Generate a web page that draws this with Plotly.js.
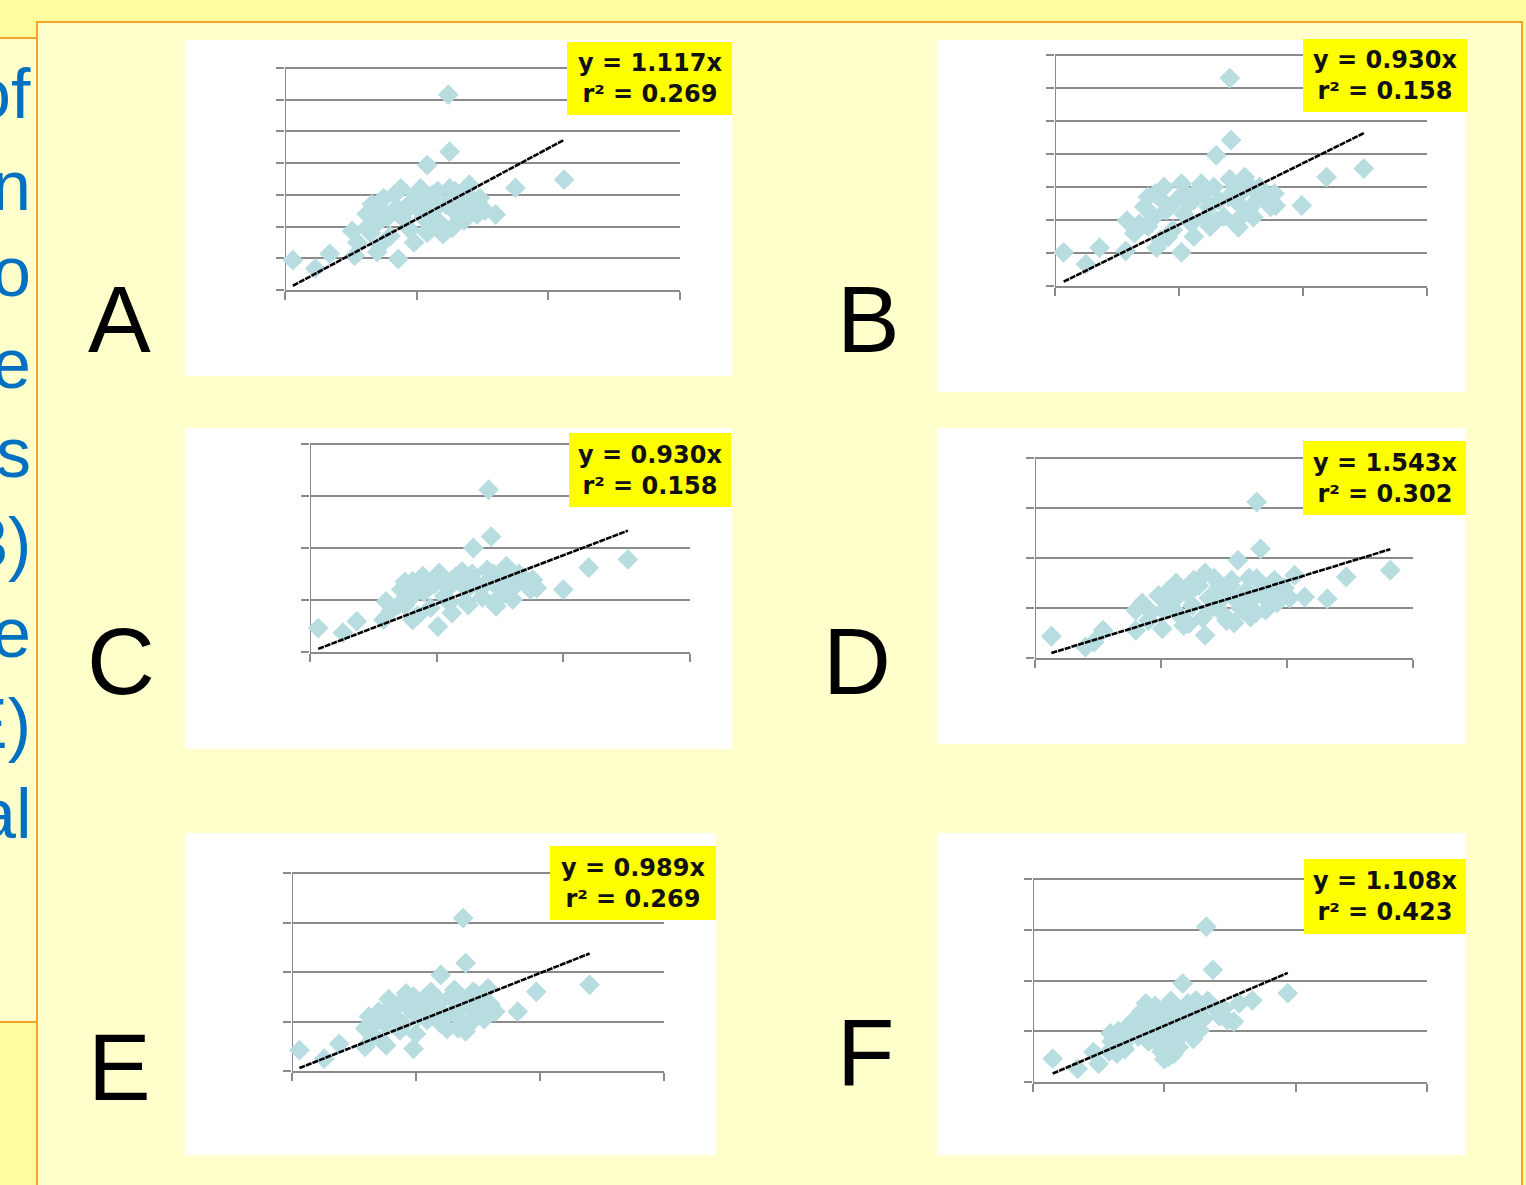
<!DOCTYPE html>
<html>
<head>
<meta charset="utf-8">
<script src="https://cdn.plot.ly/plotly-3.0.1.min.js"></script>
<style>
html,body{margin:0;padding:0;background:#fffb9f;}
#chart{width:1526px;height:1185px;}
</style>
</head>
<body>
<div id="chart"></div>
<script>
// ---------------- DATA ----------------
const panelLabels = ['A','B','C','D','E','F'];
const slopes = [1.117, 0.930, 0.930, 1.543, 0.989, 1.108];
const rSquared = [0.269, 0.158, 0.158, 0.302, 0.269, 0.423];
const sideWords = ['of','n','o','e','s','3)','e','E)','al'];

const ptsA = [[0.06,0.47],[0.23,0.34],[0.34,0.57],[0.51,0.93],[0.53,0.54],[0.62,0.98],[0.70,0.60],[0.72,1.30],[0.83,1.50],[0.86,0.49],[0.89,1.14],[0.94,1.35],[0.99,1.50],[1.05,1.14],[1.08,1.97],[1.10,0.98],[1.16,1.56],[1.20,0.88],[1.24,3.08],[1.25,2.18],[1.27,0.98],[1.29,1.56],[1.35,1.30],[1.40,1.66],[1.43,1.40],[1.46,1.19],[1.60,1.19],[1.75,1.61],[2.12,1.74],
 [0.62,1.2],[0.66,1.35],[0.70,1.05],[0.75,1.45],[0.78,1.15],[0.80,0.85],[0.85,1.3],[0.88,1.6],[0.92,1.25],[0.95,0.95],[1.0,1.3],[1.03,1.6],[1.06,1.4],[1.10,1.2],[1.12,1.5],[1.15,1.3],[1.18,1.05],[1.22,1.35],[1.25,1.6],[1.28,1.25],[1.32,1.5],[1.36,1.1],[1.38,1.6],[1.42,1.3],[1.48,1.45],[0.55,0.75],[0.65,0.9],[0.72,0.7],[0.98,0.75],[1.08,0.9],[1.3,1.05],[1.52,1.25]];

const ptsB = [[0.07,0.51],[0.25,0.33],[0.36,0.58],[0.57,0.53],[0.58,0.99],[0.68,0.94],[0.77,0.99],[0.81,1.40],[0.82,0.58],[0.88,1.50],[0.91,0.74],[1.02,0.51],[1.02,1.55],[1.04,1.09],[1.18,1.55],[1.21,1.01],[1.30,1.98],[1.30,0.99],[1.41,3.15],[1.42,2.21],[1.41,1.62],[1.48,0.89],[1.53,1.65],[1.60,1.04],[1.77,1.40],[1.78,1.22],[1.99,1.22],[2.19,1.65],[2.49,1.78],
 [0.72,1.2],[0.75,1.35],[0.80,1.05],[0.86,1.30],[0.90,1.15],[0.95,0.85],[0.98,1.3],[1.05,1.4],[1.08,1.25],[1.10,0.95],[1.12,1.3],[1.15,1.45],[1.2,1.4],[1.24,1.2],[1.28,1.5],[1.32,1.3],[1.36,1.05],[1.40,1.35],[1.45,1.5],[1.48,1.25],[1.52,1.45],[1.56,1.15],[1.58,1.5],[1.63,1.3],[1.70,1.4],[0.64,0.8],[0.75,0.9],[0.85,0.7],[1.12,0.75],[1.25,0.9],[1.5,1.05],[1.74,1.2],[1.45,0.95],[1.65,1.5]];

const ptsC = [[0.065,0.46],[0.26,0.37],[0.37,0.59],[0.58,0.62],[0.60,0.97],[0.70,0.91],[0.81,0.62],[0.81,1.36],[0.89,1.46],[1.01,0.49],[1.02,1.52],[1.06,1.07],[1.20,1.55],[1.23,0.97],[1.29,2.00],[1.41,3.12],[1.43,2.22],[1.40,1.58],[1.47,0.88],[1.55,1.65],[1.60,1.01],[1.76,1.39],[1.79,1.23],[2.00,1.20],[2.20,1.62],[2.51,1.78],
 [0.72,1.2],[0.75,1.35],[0.80,1.05],[0.86,1.30],[0.90,1.15],[0.95,0.85],[0.98,1.3],[1.05,1.4],[1.08,1.25],[1.10,0.95],[1.12,1.3],[1.15,1.45],[1.2,1.4],[1.24,1.2],[1.28,1.5],[1.32,1.3],[1.36,1.05],[1.40,1.35],[1.45,1.5],[1.48,1.25],[1.52,1.45],[1.56,1.15],[1.58,1.5],[1.63,1.3],[1.70,1.4],[0.64,0.8],[0.75,0.9],[0.85,0.7],[1.12,0.75],[1.25,0.9],[1.5,1.05],[1.74,1.2],[1.45,0.95],[1.65,1.5]];

const ptsD = [[0.13,0.87],[0.40,0.44],[0.47,0.64],[0.54,1.11],[0.80,1.91],[0.80,1.11],[0.92,1.84],[1.01,1.17],[1.06,2.71],[1.08,2.04],[1.22,1.37],[1.26,3.11],[1.27,2.84],[1.35,0.91],[1.41,2.04],[1.46,2.84],[1.49,1.77],[1.56,3.11],[1.61,3.91],[1.65,1.91],[1.71,1.64],[1.76,6.24],[1.79,4.37],[1.76,3.17],[1.83,1.91],[1.90,3.11],[1.95,2.57],[2.06,3.31],[2.14,2.44],[2.32,2.37],[2.47,3.24],[2.82,3.51],
 [0.85,2.2],[0.9,1.5],[0.98,2.5],[1.02,1.9],[1.1,2.3],[1.12,3.0],[1.15,1.7],[1.2,2.6],[1.25,2.1],[1.3,2.9],[1.33,1.6],[1.38,2.4],[1.42,3.2],[1.45,2.2],[1.5,2.6],[1.52,1.5],[1.55,2.9],[1.6,2.3],[1.63,2.0],[1.68,2.7],[1.72,2.3],[1.75,1.8],[1.8,2.6],[1.85,2.3],[1.88,3.0],[1.92,2.2],[1.98,2.8],[2.02,2.4],[1.7,3.2],[1.58,1.4],[1.35,3.4],[1.18,1.3]];

const ptsE = [[0.06,0.42],[0.26,0.25],[0.38,0.55],[0.59,0.86],[0.59,0.49],[0.67,0.96],[0.76,0.52],[0.80,1.30],[0.87,0.82],[0.92,1.57],[0.98,0.45],[1.04,1.30],[1.09,1.03],[1.15,1.50],[1.20,1.94],[1.20,0.96],[1.31,1.64],[1.34,0.86],[1.38,3.09],[1.40,2.18],[1.45,0.99],[1.48,1.57],[1.58,1.67],[1.64,1.20],[1.82,1.20],[1.97,1.60],[2.40,1.74],
 [0.62,1.1],[0.7,1.2],[0.75,0.95],[0.78,1.45],[0.83,1.1],[0.86,1.35],[0.9,0.95],[0.95,1.25],[0.98,1.5],[1.02,1.1],[1.06,1.45],[1.1,1.25],[1.12,1.6],[1.16,1.15],[1.2,1.4],[1.24,1.1],[1.28,1.5],[1.32,1.25],[1.35,1.05],[1.38,1.45],[1.42,1.3],[1.46,1.6],[1.5,1.2],[1.54,1.45],[1.6,1.35],[0.66,0.7],[0.72,0.62],[1.0,0.75],[1.25,0.85],[1.4,0.8],[1.55,1.05]];

const ptsF = [[0.15,0.46],[0.34,0.26],[0.46,0.59],[0.50,0.36],[0.59,0.96],[0.64,0.56],[0.69,0.76],[0.73,1.12],[0.80,1.29],[0.86,1.55],[0.90,1.02],[0.95,0.76],[1.03,0.49],[1.03,1.48],[1.09,1.29],[1.11,0.69],[1.14,1.94],[1.16,1.02],[1.24,1.61],[1.27,1.02],[1.32,3.06],[1.37,2.21],[1.40,1.42],[1.48,1.22],[1.53,1.19],[1.57,1.55],[1.67,1.61],[1.94,1.75],
 [0.6,0.8],[0.65,1.0],[0.7,0.65],[0.72,0.95],[0.76,1.2],[0.8,0.9],[0.83,1.4],[0.85,1.1],[0.88,0.8],[0.9,1.3],[0.93,1.5],[0.96,1.1],[0.98,0.6],[1.0,1.3],[1.02,0.9],[1.05,1.6],[1.06,0.7],[1.08,1.1],[1.1,1.45],[1.12,0.9],[1.15,1.3],[1.18,1.55],[1.2,1.15],[1.22,0.85],[1.25,1.4],[1.3,1.25],[1.33,1.6],[1.42,1.3],[1.45,1.45],[0.58,0.6],[1.0,0.45],[1.07,0.55]];

const allPts = [ptsA, ptsB, ptsC, ptsD, ptsE, ptsF];

// ---------------- LAYOUT GEOMETRY (pixels) ----------------
const W = 1526, H = 1185;
const geom = [
  {ax:[285,680],  ay:[68,290],  yr:[0,3.5], dy:0.5, bg:[185,40,732,376],  box:[567,42,732,115],  letter:[119,352]},
  {ax:[1055,1427],ay:[55,286],  yr:[0,3.5], dy:0.5, bg:[937,40,1466,392], box:[1303,39,1467,112], letter:[868,352]},
  {ax:[310,690],  ay:[444,652], yr:[0,4],   dy:1,   bg:[185,428,732,749], box:[569,433,731,507], letter:[121,694]},
  {ax:[1035,1413],ay:[458,658], yr:[0,8],   dy:2,   bg:[937,428,1466,744],box:[1303,441,1466,515],letter:[857,694]},
  {ax:[292,664],  ay:[873,1071],yr:[0,4],   dy:1,   bg:[185,833,716,1155],box:[550,846,716,920], letter:[119,1100]},
  {ax:[1033,1427],ay:[879,1082],yr:[0,4],   dy:1,   bg:[937,833,1466,1155],box:[1304,859,1466,934],letter:[865,1085]}
];
const sideBaselines = [118,211,297,389,478,568,657,748,838];

const px = x => x / W;
const py = y => 1 - y / H;

const ORANGE = '#f7a128';
const GRID = '#8a8a8a';
const MARK = '#b7dde1';
const PAD = 3; // extra px above top gridline so it is drawn inside the plot area

const traces = [];
const layout = {
  width: W, height: H,
  margin: {l:0, r:0, t:0, b:0},
  paper_bgcolor: '#fffb9f',
  plot_bgcolor: 'rgba(0,0,0,0)',
  showlegend: false,
  shapes: [],
  annotations: []
};

// background regions
layout.shapes.push({type:'rect', xref:'paper', yref:'paper', layer:'below',
  x0:px(-5), x1:px(37), y0:py(1022), y1:py(38), fillcolor:'#ffffcc', line:{color:ORANGE, width:2}});
layout.shapes.push({type:'rect', xref:'paper', yref:'paper', layer:'below',
  x0:px(37), x1:px(1522), y0:py(1200), y1:py(22), fillcolor:'#ffffcc', line:{color:ORANGE, width:2}});

// side text (words clipped by the slide edge, as in the original)
sideWords.forEach((w, i) => {
  const fs = 70;
  layout.annotations.push({xref:'paper', yref:'paper', x:px(33), y:py(sideBaselines[i] - 0.35*fs),
    xanchor:'right', yanchor:'middle', showarrow:false, text:w,
    font:{family:'Liberation Sans, Arial, sans-serif', size:fs, color:'#0070c0'}});
});

allPts.forEach((pts, i) => {
  const g = geom[i];
  const sfx = i === 0 ? '' : String(i+1);
  const xs = pts.map(p => p[0]);
  const ys = pts.map(p => p[1]);
  const ppu = (g.ay[1] - g.ay[0]) / (g.yr[1] - g.yr[0]);
  const ytop = g.yr[1] + PAD / ppu;
  // white panel
  layout.shapes.push({type:'rect', xref:'paper', yref:'paper', layer:'below',
    x0:px(g.bg[0]), x1:px(g.bg[2]), y0:py(g.bg[3]), y1:py(g.bg[1]), fillcolor:'#ffffff', line:{width:0}});
  // axes
  layout['xaxis'+sfx] = {domain:[px(g.ax[0]), px(g.ax[1])], anchor:'y'+sfx, range:[0,3], tick0:0, dtick:1,
    showgrid:false, zeroline:false, showline:true, linecolor:GRID, linewidth:2,
    ticks:'outside', ticklen:8, tickwidth:2, tickcolor:GRID, showticklabels:false, fixedrange:true};
  layout['yaxis'+sfx] = {domain:[py(g.ay[1]), py(g.ay[0] - PAD)], anchor:'x'+sfx, range:[g.yr[0], ytop], tick0:0, dtick:g.dy,
    showgrid:true, gridcolor:GRID, gridwidth:2, zeroline:false, showline:false,
    ticks:'outside', ticklen:8, tickwidth:2, tickcolor:GRID, showticklabels:false, fixedrange:true};
  // y axis line from 0 to the top gridline
  layout.shapes.push({type:'line', xref:'x'+sfx, yref:'y'+sfx, layer:'below',
    x0:0, x1:0, y0:g.yr[0], y1:g.yr[1], line:{color:GRID, width:2}});
  // scatter
  traces.push({type:'scatter', mode:'markers', x:xs, y:ys, xaxis:'x'+sfx, yaxis:'y'+sfx,
    cliponaxis:false, hoverinfo:'skip',
    marker:{symbol:'diamond', size:16, color:MARK, line:{width:0}}});
  // trendline y = slope * x over the data x-range
  const xmin = Math.min(...xs), xmax = Math.max(...xs);
  traces.push({type:'scatter', mode:'lines', x:[xmin, xmax], y:[slopes[i]*xmin, slopes[i]*xmax],
    xaxis:'x'+sfx, yaxis:'y'+sfx, cliponaxis:false, hoverinfo:'skip',
    line:{color:'#000000', width:2.6, dash:'6px,1px'}});
  // equation box
  layout.shapes.push({type:'rect', xref:'paper', yref:'paper', layer:'above',
    x0:px(g.box[0]), x1:px(g.box[2]), y0:py(g.box[3]), y1:py(g.box[1]), fillcolor:'#ffff00', line:{width:0}});
  layout.annotations.push({xref:'paper', yref:'paper', x:px((g.box[0]+g.box[2])/2), y:py((g.box[1]+g.box[3])/2),
    xanchor:'center', yanchor:'middle', showarrow:false, align:'center',
    text:'<b>y = ' + slopes[i].toFixed(3) + 'x<br>r² = ' + rSquared[i].toFixed(3) + '</b>',
    font:{family:'DejaVu Sans, Verdana, sans-serif', size:24, color:'#111111'}});
  // panel letter
  const lfs = 94;
  layout.annotations.push({xref:'paper', yref:'paper', x:px(g.letter[0]), y:py(g.letter[1] - 0.35*lfs),
    xanchor:'center', yanchor:'middle', showarrow:false, text:panelLabels[i],
    font:{family:'Liberation Sans, Arial, sans-serif', size:lfs, color:'#000000'}});
});

Plotly.newPlot('chart', traces, layout, {displayModeBar:false, staticPlot:true});
</script>
</body>
</html>
